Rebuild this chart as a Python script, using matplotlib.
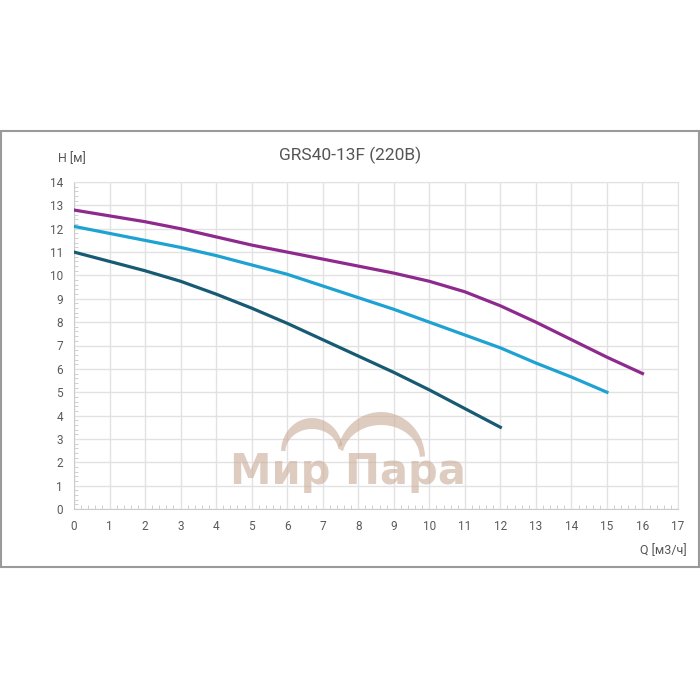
import numpy as np
import matplotlib
matplotlib.use('Agg')
import matplotlib.pyplot as plt
from matplotlib.patches import Rectangle
from matplotlib.ticker import MultipleLocator

plt.rcParams['font.family'] = ['Roboto', 'DejaVu Sans']

# curve data, Q [m3/h] -> H [m]
q_high = [0, 1, 2, 3, 4, 5, 6, 7, 8, 9, 10, 11, 12, 13, 14, 15, 16]
h_high = [12.8, 12.55, 12.3, 12.0, 11.65, 11.3, 11.0, 10.7, 10.4, 10.1, 9.75, 9.3, 8.7, 8.0, 7.25, 6.5, 5.8]

q_mid = [0, 1, 2, 3, 4, 5, 6, 7, 8, 9, 10, 11, 12, 13, 14, 15]
h_mid = [12.1, 11.8, 11.5, 11.2, 10.85, 10.45, 10.05, 9.55, 9.05, 8.55, 8.0, 7.45, 6.9, 6.25, 5.65, 5.0]

q_low = [0, 1, 2, 3, 4, 5, 6, 7, 8, 9, 10, 11, 12]
h_low = [11.0, 10.6, 10.2, 9.75, 9.2, 8.6, 7.95, 7.25, 6.55, 5.85, 5.1, 4.3, 3.5]

x_ticks = list(range(0, 18))
y_ticks = list(range(0, 15))

fig = plt.figure(figsize=(7, 7), dpi=100)
fig.patch.set_facecolor('white')

# outer frame
fig.patches.append(Rectangle((0.002, 133 / 700), 0.996, 436 / 700,
                             transform=fig.transFigure, fill=False,
                             edgecolor='#9a9a9a', lw=1.5))

ax = fig.add_axes([74 / 700, 1 - 509 / 700, 604 / 700, 327 / 700])
ax.set_xlim(0, 17)
ax.set_ylim(0, 14)
ax.set_xticks(x_ticks)
ax.set_yticks(y_ticks)
ax.xaxis.set_minor_locator(MultipleLocator(0.2))
ax.yaxis.set_minor_locator(MultipleLocator(0.2))
ax.grid(True, which='major', color='#e2e2e2', lw=1)
ax.tick_params(which='major', length=0, labelsize=8.5, colors='#5a5a5a', pad=8)
ax.tick_params(which='minor', direction='in', length=3, width=0.7, color='#cfcfcf')
for s in ax.spines.values():
    s.set_color('#e2e2e2')
ax.spines['left'].set_color('#cccccc')
ax.spines['bottom'].set_color('#cccccc')

ax.plot(q_high, h_high, color='#8e2a8e', lw=2.3, zorder=3)
ax.plot(q_mid, h_mid, color='#1da2d3', lw=2.3, zorder=3)
ax.plot(q_low, h_low, color='#175a73', lw=2.3, zorder=3)


# watermark crescents, drawn in pixel coordinates of the 700px figure
def crescent(cx, cy, rx, ry, thick, t0, t1):
    t = np.linspace(np.radians(t0), np.radians(t1), 60)
    ox = cx + rx * np.cos(t)
    oy = cy - ry * np.sin(t)
    tr = t[::-1]
    ix = cx + (rx - thick * 0.4) * np.cos(tr)
    iy = cy - (ry - thick) * np.sin(tr)
    xs = np.concatenate([ox, ix]) / 700
    ys = 1 - np.concatenate([oy, iy]) / 700
    return xs, ys


wm = '#c9ab98'
for cx, cy, rx, ry, th, t0, t1 in [(312, 452, 31, 34, 11, 12, 178),
                                   (381, 458, 44, 46, 13, 2, 168)]:
    xs, ys = crescent(cx, cy, rx, ry, th, t0, t1)
    fig.patches.append(plt.Polygon(np.column_stack([xs, ys]), closed=True,
                                   transform=fig.transFigure, facecolor=wm,
                                   edgecolor='none', alpha=0.6))
fig.text(348 / 700, 1 - 472 / 700, 'Мир Пара', ha='center', va='center',
         fontsize=30, fontweight='bold', color=wm, alpha=0.6,
         family=['DejaVu Sans'])

fig.text(350 / 700, 1 - 155 / 700, 'GRS40-13F (220B)', ha='center', va='center',
         fontsize=12.5, color='#555555')
fig.text(58 / 700, 1 - 159 / 700, 'H [м]', ha='left', va='center',
         fontsize=9, color='#555555')
fig.text(687 / 700, 1 - 551 / 700, 'Q [м3/ч]', ha='right', va='center',
         fontsize=9, color='#555555')

fig.savefig('out.png', dpi=100)
